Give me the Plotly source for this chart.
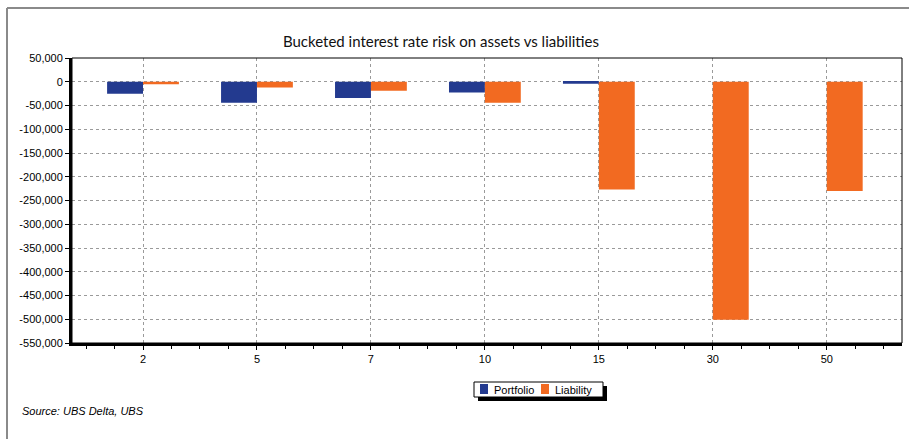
import plotly.graph_objects as go

categories = ["2", "5", "7", "10", "15", "30", "50"]
portfolio = [-25000, -44000, -34000, -22500, -4000, 0, 0]
liability = [-5000, -12000, -19000, -44000, -227000, -501000, -230000]
y_ticks = list(range(50000, -550001, -50000))
series_names = ["Portfolio", "Liability"]
series_colors = ["#233a8f", "#f26a21"]

W, H = 909, 439
L, R, T, B = 72, 7, 58, 96
pw, ph = W - L - R, H - T - B

def px_x(x):
    return (x - L) / pw

def px_y(y):
    return (H - B - y) / ph

xs = list(range(len(categories)))

fig = go.Figure()
for name, vals, col in zip(series_names, [portfolio, liability], series_colors):
    fig.add_trace(go.Bar(x=xs, y=vals, name=name, showlegend=False,
                         marker=dict(color=col, line=dict(width=0))))

fig.update_layout(
    width=W, height=H,
    margin=dict(l=L, r=R, t=T, b=B),
    paper_bgcolor="white", plot_bgcolor="white",
    barmode="group", bargap=0.37, bargroupgap=0,
    title=dict(text="Bucketed interest rate risk on assets vs liabilities",
               x=441 / W, xanchor="center", y=1 - 42 / H, yanchor="middle",
               font=dict(family="Lato", size=15, color="#111")),
    font=dict(family="Arial", size=11, color="black"),
    showlegend=False,
)

fig.update_xaxes(
    range=[-0.623, 6.66],
    tickmode="array", tickvals=xs, ticktext=categories,
    showgrid=True, gridcolor="#9a9a9a", griddash="3px,3px", gridwidth=1,
    showline=True, linecolor="black", linewidth=3,
    ticks="outside", ticklen=4, tickcolor="black",
    minor=dict(dtick=0.25, tick0=0, ticks="outside", ticklen=3, tickcolor="black", showgrid=False),
    tickfont=dict(family="Arial", size=11, color="black"),
    zeroline=False,
)
fig.update_yaxes(
    range=[-550000, 50000],
    tickmode="array", tickvals=y_ticks, ticktext=[f"{v:,}" for v in y_ticks],
    showgrid=True, gridcolor="#9a9a9a", griddash="3px,3px", gridwidth=1,
    showline=True, linecolor="black", linewidth=3,
    ticks="outside", ticklen=4, tickcolor="black",
    tickfont=dict(family="Arial", size=11, color="black"),
    zeroline=False,
)

shapes = [
    dict(type="rect", xref="paper", yref="paper", x0=0, x1=1, y0=0, y1=1,
         line=dict(color="black", width=1), layer="above"),
    dict(type="line", xref="paper", yref="paper", x0=px_x(7), x1=px_x(W + 5),
         y0=px_y(8), y1=px_y(8), line=dict(color="#8a8a8a", width=2)),
    dict(type="line", xref="paper", yref="paper", x0=px_x(7), x1=px_x(7),
         y0=px_y(8), y1=px_y(H + 5), line=dict(color="#8a8a8a", width=2)),
    dict(type="rect", xref="paper", yref="paper", x0=px_x(478), x1=px_x(607),
         y0=px_y(401), y1=px_y(386), fillcolor="black", line=dict(width=0)),
    dict(type="rect", xref="paper", yref="paper", x0=px_x(474), x1=px_x(603),
         y0=px_y(397), y1=px_y(382), fillcolor="white", line=dict(color="black", width=1)),
]
legend_sq_x = [480, 541]
legend_tx_x = [492, 553]
for name, col, sx, tx in zip(series_names, series_colors, legend_sq_x, legend_tx_x):
    shapes.append(dict(type="rect", xref="paper", yref="paper", x0=px_x(sx), x1=px_x(sx + 8),
                       y0=px_y(394), y1=px_y(384), fillcolor=col, line=dict(width=0)))
    fig.add_annotation(text=name, xref="paper", yref="paper", x=px_x(tx), y=px_y(389.5),
                       xanchor="left", yanchor="middle", showarrow=False,
                       font=dict(family="Arial", size=11, color="black"))
fig.update_layout(shapes=shapes)

fig.add_annotation(text="<i>Source: UBS Delta, UBS</i>", xref="paper", yref="paper",
                   x=px_x(20), y=px_y(411), xanchor="left", yanchor="middle",
                   showarrow=False, font=dict(family="Arial", size=11, color="black"))

fig.write_html("out.html")
